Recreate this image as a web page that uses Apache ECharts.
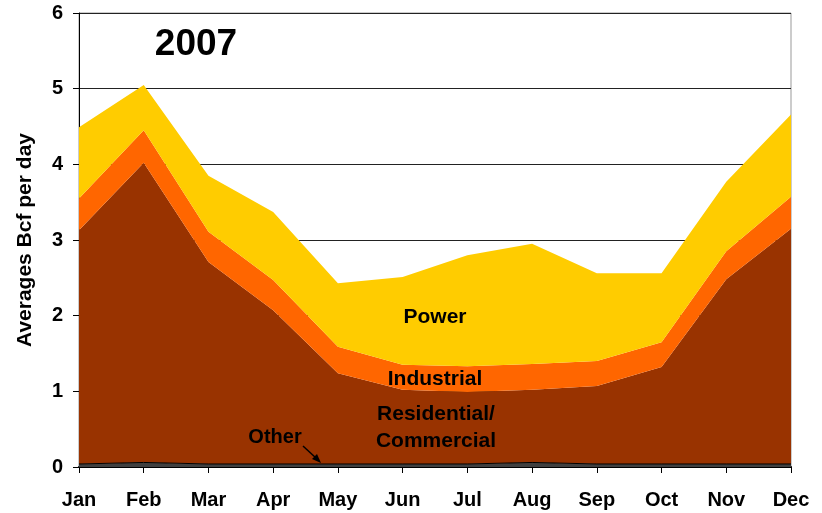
<!DOCTYPE html>
<html>
<head>
<meta charset="utf-8">
<script src="https://cdn.jsdelivr.net/npm/echarts@6/dist/echarts.min.js"></script>
<style>
  html, body { margin: 0; padding: 0; background: #fff; }
  #chart { width: 822px; height: 513px; }
</style>
</head>
<body>
<div id="chart"></div>
<script>
const months = ['Jan', 'Feb', 'Mar', 'Apr', 'May', 'Jun', 'Jul', 'Aug', 'Sep', 'Oct', 'Nov', 'Dec'];
const other = [0.04, 0.06, 0.04, 0.04, 0.04, 0.04, 0.04, 0.06, 0.04, 0.04, 0.04, 0.04];
const residential = [3.09, 3.96, 2.67, 2.03, 1.20, 0.98, 0.95, 0.96, 1.03, 1.28, 2.44, 3.11];
const industrial = [0.42, 0.43, 0.40, 0.40, 0.35, 0.33, 0.34, 0.34, 0.33, 0.33, 0.37, 0.42];
const power = [0.94, 0.60, 0.74, 0.90, 0.84, 1.16, 1.47, 1.59, 1.16, 0.91, 0.92, 1.09];

const font = '"Liberation Sans", Arial, sans-serif';

function areaSeries(name, data, color, line) {
  return {
    name: name,
    type: 'line',
    stack: 'total',
    data: data,
    symbol: 'none',
    silent: true,
    lineStyle: line || { width: 0 },
    areaStyle: { color: color, opacity: 1 },
  };
}

function label(text, x, y, size) {
  return {
    type: 'text',
    x: x,
    y: y,
    z: 100,
    style: {
      text: text,
      font: 'bold ' + (size || 21) + 'px ' + font,
      fill: '#000',
      align: 'center',
      verticalAlign: 'middle',
    },
  };
}

const chart = echarts.init(document.getElementById('chart'));
chart.setOption({
  animation: false,
  grid: {
    left: 79,
    right: 31,
    top: 13,
    bottom: 46,
    show: true,
    borderColor: '#999',
    borderWidth: 1,
    containLabel: false,
  },
  xAxis: {
    type: 'category',
    data: months,
    boundaryGap: false,
    axisLine: { lineStyle: { color: '#000', width: 2 } },
    axisTick: { show: true, interval: 0, length: 6, lineStyle: { color: '#000', width: 1 } },
    axisLabel: {
      interval: 0,
      margin: 23,
      color: '#000',
      fontWeight: 'bold',
      fontSize: 20,
      fontFamily: font,
    },
    splitLine: { show: false },
  },
  yAxis: {
    type: 'value',
    min: 0,
    max: 6,
    interval: 1,
    name: 'Averages Bcf per day',
    nameLocation: 'middle',
    nameGap: 43,
    nameTextStyle: { color: '#000', fontWeight: 'bold', fontSize: 21, fontFamily: font },
    axisLine: { show: true, lineStyle: { color: '#000', width: 1 } },
    axisTick: { show: true, length: 6, lineStyle: { color: '#000' } },
    axisLabel: {
      margin: 16,
      color: '#000',
      fontWeight: 'bold',
      fontSize: 20,
      fontFamily: font,
    },
    splitLine: { show: true, lineStyle: { color: '#222', width: 1 } },
  },
  series: [
    areaSeries('Other', other, '#404040', { width: 1, color: '#000' }),
    areaSeries('Residential/Commercial', residential, '#993300'),
    areaSeries('Industrial', industrial, '#FF6600'),
    areaSeries('Power', power, '#FFCC00'),
  ],
  graphic: [
    label('2007', 196, 45, 37),
    label('Power', 435, 317),
    label('Industrial', 435, 379),
    label('Residential/', 436, 414),
    label('Commercial', 436, 441),
    label('Other', 275, 437, 20),
    {
      type: 'line',
      z: 100,
      shape: { x1: 303, y1: 446, x2: 316, y2: 458 },
      style: { stroke: '#000', lineWidth: 1.5 },
    },
    {
      type: 'polygon',
      z: 100,
      shape: { points: [[321, 463], [312, 459], [317, 454]] },
      style: { fill: '#000' },
    },
  ],
});
</script>
</body>
</html>
